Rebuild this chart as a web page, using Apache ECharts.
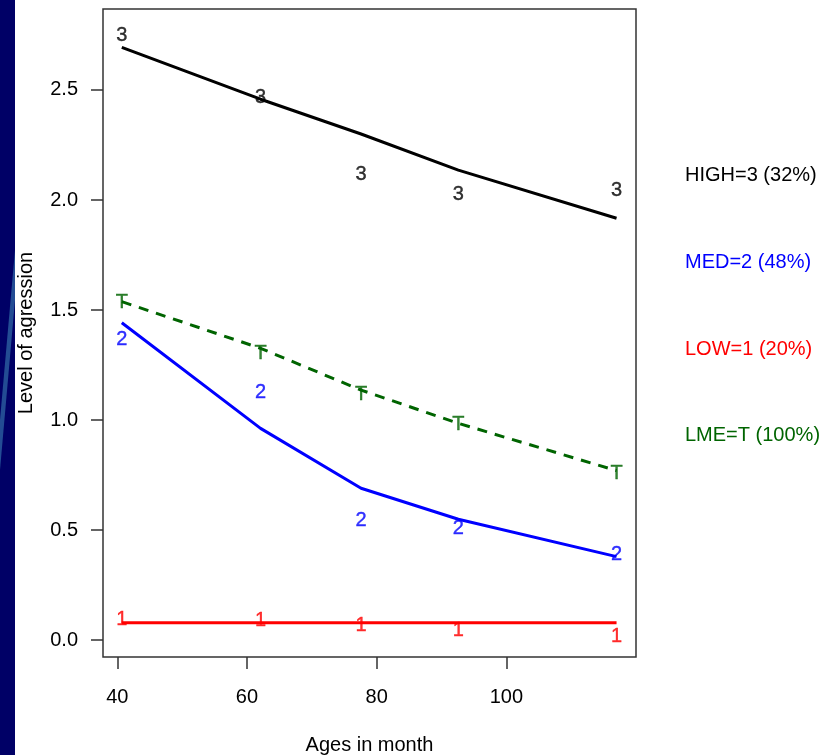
<!DOCTYPE html>
<html>
<head>
<meta charset="utf-8">
<script src="https://cdn.jsdelivr.net/npm/echarts@6/dist/echarts.min.js"></script>
<style>
html,body{margin:0;padding:0;background:#fff;}
#wrap{position:relative;width:825px;height:755px;}
#strip{position:absolute;left:0;top:0;width:15px;height:755px;background:#000066;overflow:hidden;}
#wedge{position:absolute;left:0;top:0;width:15px;height:755px;background:#2c5fa0;opacity:0.8;
  clip-path:polygon(0 420px,15px 250px,15px 300px,0 470px);}
#c{position:absolute;left:0;top:0;width:825px;height:755px;}
</style>
</head>
<body>
<div id="wrap">
<div id="strip"><div id="wedge"></div></div>
<div id="c"></div>
</div>
<script>
// ---- data ----
var ages = [40.7, 62.1, 77.6, 92.6, 117.0];
var highFit = [2.694, 2.458, 2.300, 2.136, 1.917];
var medFit  = [1.442, 0.962, 0.690, 0.549, 0.379];
var lowFit  = [0.079, 0.079, 0.079, 0.079, 0.079];
var lmeFit  = [1.538, 1.326, 1.136, 0.985, 0.770];
var highObs = [2.748, 2.466, 2.118, 2.027, 2.045];
var medObs  = [1.368, 1.127, 0.545, 0.505, 0.389];
var lowObs  = [0.095, 0.089, 0.068, 0.045, 0.014];
var lmeObs  = [1.536, 1.302, 1.118, 0.980, 0.759];
var xTicks = [40, 60, 80, 100];
var yTicks = [0, 0.5, 1.0, 1.5, 2.0, 2.5];
var legendLabels = ['HIGH=3 (32%)', 'MED=2 (48%)', 'LOW=1 (20%)', 'LME=T (100%)'];
var markerChars = ['3', '2', '1', 'T'];
var xTitle = 'Ages in month';
var yTitle = 'Level of agression';

var colors = ['#000000', '#0000ff', '#ff0000', '#006400'];
var FONT = 'Liberation Sans, Arial, sans-serif';

function pairs(xs, ys){ return xs.map(function(x,i){ return [x, ys[i]]; }); }

var fits = [highFit, medFit, lowFit, lmeFit];
var obs = [highObs, medObs, lowObs, lmeObs];

var series = [];
fits.forEach(function(f, i){
  series.push({
    type: 'line', data: pairs(ages, f), symbol: 'none', silent: true,
    lineStyle: { color: colors[i], width: 3, type: i === 3 ? [10, 8] : 'solid' },
    z: 2
  });
});
obs.forEach(function(o, i){
  series.push({
    type: 'scatter', data: pairs(ages, o), symbolSize: 1, silent: true,
    itemStyle: { color: 'rgba(0,0,0,0)' },
    label: { show: true, position: 'inside', formatter: markerChars[i],
             color: colors[i], fontSize: 20, fontFamily: FONT,
             textBorderColor: colors[i], textBorderWidth: 0.4 },
    z: 3
  });
});

var graphics = [];
var legendY = [176, 263, 350, 436];
legendLabels.forEach(function(t, i){
  graphics.push({
    type: 'text', left: 685, top: legendY[i] - 11,
    style: { text: t, fill: colors[i], fontSize: 20, fontFamily: FONT }
  });
});

var chart = echarts.init(document.getElementById('c'), null, { renderer: 'canvas' });
chart.setOption({
  animation: false,
  backgroundColor: 'transparent',
  grid: { left: 103, right: 189, top: 9, bottom: 98, show: true,
          outerBoundsMode: 'none', containLabel: false,
          borderColor: '#333', borderWidth: 1.5, backgroundColor: 'transparent' },
  xAxis: {
    type: 'value', min: 37.8, max: 120,
    name: xTitle, nameLocation: 'middle', nameGap: 78,
    nameTextStyle: { fontSize: 20, color: '#000', fontFamily: FONT },
    axisLine: { show: false, onZero: false },
    splitLine: { show: false },
    axisTick: { show: true, inside: false, customValues: xTicks, length: 12, lineStyle: { color: '#333', width: 1.5 } },
    axisLabel: { customValues: xTicks, fontSize: 20, color: '#000', fontFamily: FONT, margin: 30 }
  },
  yAxis: {
    type: 'value', min: -0.077, max: 2.868,
    name: yTitle, nameLocation: 'middle', nameGap: 67, nameRotate: 90,
    nameTextStyle: { fontSize: 20, color: '#000', fontFamily: FONT },
    axisLine: { show: false, onZero: false },
    splitLine: { show: false },
    axisTick: { show: true, inside: false, customValues: yTicks, length: 12, lineStyle: { color: '#333', width: 1.5 } },
    axisLabel: { customValues: yTicks, fontSize: 20, color: '#000', fontFamily: FONT, margin: 25,
                 formatter: function(v){ return v.toFixed(1); } }
  },
  graphic: graphics,
  series: series
});
</script>
</body>
</html>
